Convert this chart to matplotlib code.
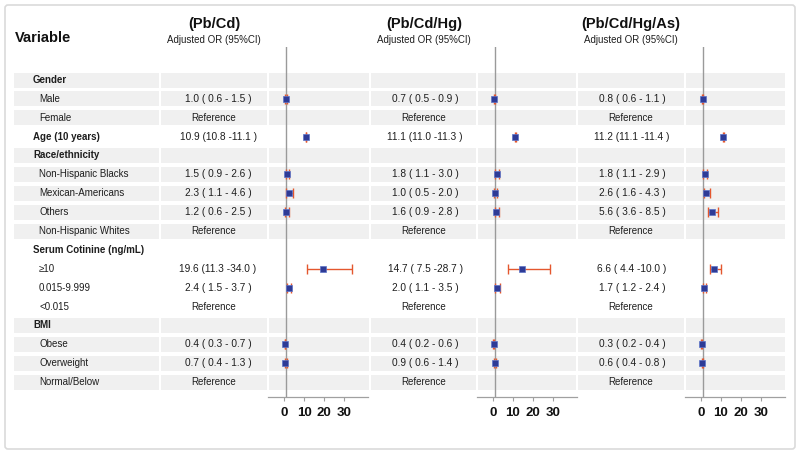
import matplotlib
matplotlib.use("Agg")
import matplotlib.pyplot as plt
from matplotlib.patches import Rectangle, FancyBboxPatch
import numpy as np

plt.rcParams['font.family'] = ['Liberation Sans', 'DejaVu Sans']

# ---------------- data ----------------
row_labels = ["Gender", "Male", "Female", "Age (10 years)", "Race/ethnicity",
              "Non-Hispanic Blacks", "Mexican-Americans", "Others", "Non-Hispanic Whites",
              "Serum Cotinine (ng/mL)", "\u226510", "0.015-9.999", "<0.015",
              "BMI", "Obese", "Overweight", "Normal/Below"]
row_bold = [True, False, False, True, True, False, False, False, False,
            True, False, False, False, True, False, False, False]
row_kind = ["head", "est", "ref", "est", "head", "est", "est", "est", "ref",
            "head", "est", "est", "ref", "head", "est", "est", "ref"]
band_rows = [0, 1, 2, 4, 5, 6, 7, 8, 13, 14, 15, 16]

model_titles = ["(Pb/Cd)", "(Pb/Cd/Hg)", "(Pb/Cd/Hg/As)"]
subtitle = "Adjusted OR (95%CI)"

# OR, lower, upper for each estimated row (None for header/reference rows)
or_pbcd = [None, 1.0, None, 10.9, None, 1.5, 2.3, 1.2, None, None, 19.6, 2.4, None, None, 0.4, 0.7, None]
lo_pbcd = [None, 0.6, None, 10.8, None, 0.9, 1.1, 0.6, None, None, 11.3, 1.5, None, None, 0.3, 0.4, None]
hi_pbcd = [None, 1.5, None, 11.1, None, 2.6, 4.6, 2.5, None, None, 34.0, 3.7, None, None, 0.7, 1.3, None]

or_pbcdhg = [None, 0.7, None, 11.1, None, 1.8, 1.0, 1.6, None, None, 14.7, 2.0, None, None, 0.4, 0.9, None]
lo_pbcdhg = [None, 0.5, None, 11.0, None, 1.1, 0.5, 0.9, None, None, 7.5, 1.1, None, None, 0.2, 0.6, None]
hi_pbcdhg = [None, 0.9, None, 11.3, None, 3.0, 2.0, 2.8, None, None, 28.7, 3.5, None, None, 0.6, 1.4, None]

or_pbcdhgas = [None, 0.8, None, 11.2, None, 1.8, 2.6, 5.6, None, None, 6.6, 1.7, None, None, 0.3, 0.6, None]
lo_pbcdhgas = [None, 0.6, None, 11.1, None, 1.1, 1.6, 3.6, None, None, 4.4, 1.2, None, None, 0.2, 0.4, None]
hi_pbcdhgas = [None, 1.1, None, 11.4, None, 2.9, 4.3, 8.5, None, None, 10.0, 2.4, None, None, 0.4, 0.8, None]

x_ticks = [0, 10, 20, 30]
ref_value = 1

models = [(or_pbcd, lo_pbcd, hi_pbcd), (or_pbcdhg, lo_pbcdhg, hi_pbcdhg),
          (or_pbcdhgas, lo_pbcdhgas, hi_pbcdhgas)]

# ---------------- layout (pixels) ----------------
W, H = 800, 454
fig = plt.figure(figsize=(W / 100, H / 100), dpi=100)
bg = fig.add_axes([0, 0, 1, 1])
bg.set_xlim(0, W)
bg.set_ylim(H, 0)
bg.axis('off')

row0, step = 80.0, 18.875
def ypx(i):
    return row0 + i * step

text_centers = [214, 424, 631]
or_centers = [218, 425, 632]
plot_lefts = [268, 477, 685]
plot_w = 100
plot_top, plot_bot = 47, 397
segments = [(14, 159), (161, 267), (269, 369), (371, 476), (478, 576), (578, 684), (686, 785)]
band_color = "#F0F0F0"
band_h = 15
txt_color = "#1E1E1E"

# outer frame
bg.add_patch(FancyBboxPatch((5, 5), 790, 444, boxstyle="round,pad=0,rounding_size=3",
                            facecolor="white", edgecolor="#DADADA", lw=1.2, zorder=0))

for r in band_rows:
    for (x0, x1) in segments:
        bg.add_patch(Rectangle((x0, ypx(r) - band_h / 2), x1 - x0, band_h,
                               facecolor=band_color, edgecolor="none", zorder=1))

# headers
bg.text(15, 38, "Variable", fontsize=10.5, fontweight='bold', ha='left', va='center', color='#111111')
for c, t in zip(text_centers, model_titles):
    bg.text(c, 24, t, fontsize=10.5, fontweight='bold', ha='center', va='center', color='#111111')
    bg.text(c, 40, subtitle, fontsize=7, ha='center', va='center', color=txt_color)

# row labels
for i, (lab, b) in enumerate(zip(row_labels, row_bold)):
    x = 33 if b else 39
    bg.text(x, ypx(i), lab, fontsize=7, fontweight='bold' if b else 'normal',
            ha='left', va='center', color=txt_color)

# estimate texts
for m, (orv, lov, hiv) in enumerate(models):
    for i, kind in enumerate(row_kind):
        if kind == "est":
            s = f"{orv[i]:.1f} ({lov[i]:4.1f} -{hiv[i]:4.1f} )"
            bg.text(or_centers[m], ypx(i), s, fontsize=7.3, ha='center', va='center', color=txt_color)
        elif kind == "ref":
            bg.text(text_centers[m], ypx(i), "Reference", fontsize=7, ha='center', va='center', color=txt_color)

# forest plots
ylim_top = (plot_top - row0) / step
ylim_bot = (plot_bot - row0) / step
for m, (orv, lov, hiv) in enumerate(models):
    ax = fig.add_axes([plot_lefts[m] / W, 1 - plot_bot / H, plot_w / W, (plot_bot - plot_top) / H])
    ax.patch.set_visible(False)
    ax.set_xlim(-8, 42)
    ax.set_ylim(ylim_bot, ylim_top)
    for s in ['top', 'right', 'left']:
        ax.spines[s].set_visible(False)
    ax.spines['bottom'].set_color('#A0A0A0')
    ax.spines['bottom'].set_linewidth(0.9)
    ax.set_yticks([])
    ax.set_xticks(x_ticks)
    ax.set_xticklabels([str(t) for t in x_ticks], fontsize=9.5, fontweight='bold', color='#111111')
    ax.tick_params(axis='x', direction='out', length=3, width=0.8, color='#A0A0A0', pad=4)
    ax.axvline(ref_value, color='#9A9A9A', lw=1.0, zorder=1)
    idx = [i for i, k in enumerate(row_kind) if k == "est"]
    ests = np.array([orv[i] for i in idx])
    los = np.array([lov[i] for i in idx])
    his = np.array([hiv[i] for i in idx])
    ys = np.array(idx, dtype=float)
    ax.errorbar(ests, ys, xerr=[ests - los, his - ests], fmt='none', ecolor='#E4572E',
                elinewidth=1.0, capsize=3.5, capthick=1.0, zorder=2)
    ax.plot(ests, ys, 's', color='#2E3B96', markersize=3.8, markeredgecolor='#5B73C8',
            markeredgewidth=0.5, zorder=3, linestyle='none')

fig.savefig("out.png", dpi=100)
